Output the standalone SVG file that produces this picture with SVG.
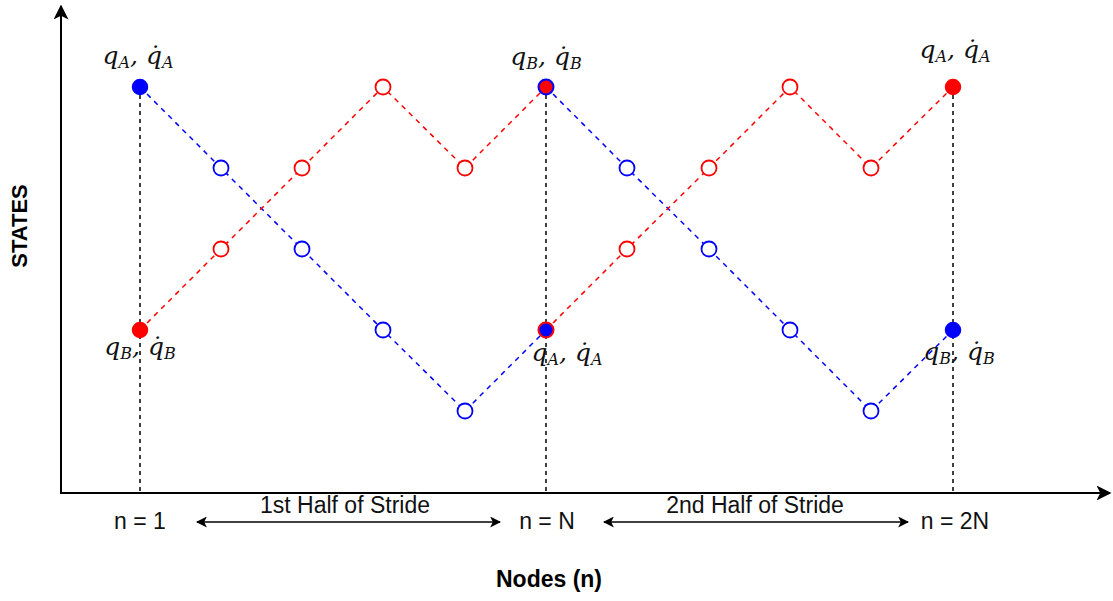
<svg xmlns="http://www.w3.org/2000/svg" width="1113" height="601" viewBox="0 0 1113 601">
<style>
.ax{stroke:#000;stroke-width:2;fill:none}
.vl{stroke:#000;stroke-width:1.5;stroke-dasharray:4 4;fill:none}
.bl{stroke:#0000ff;stroke-width:1.5;stroke-dasharray:5 5;fill:none}
.rl{stroke:#ff0000;stroke-width:1.5;stroke-dasharray:5 5;fill:none}
.ob{fill:#fff;stroke:#0000ff;stroke-width:1.8}
.or{fill:#fff;stroke:#ff0000;stroke-width:1.8}
.fb{fill:#0000ff;stroke:#0000ff;stroke-width:1.5}
.fr{fill:#ff0000;stroke:#ff0000;stroke-width:1.5}
.fbr{fill:#ff0000;stroke:#0000ff;stroke-width:2}
.frb{fill:#0000ff;stroke:#ff0000;stroke-width:2}
.m{font-family:"DejaVu Serif","Liberation Serif",serif;font-style:italic;fill:#111}
.t{font-family:"Liberation Sans",Arial,sans-serif;fill:#111}
.b{font-family:"Liberation Sans",Arial,sans-serif;font-weight:bold;fill:#000}
</style>
<defs>
<marker id="ah" viewBox="0 0 10 10" refX="9" refY="5" markerWidth="11" markerHeight="11" markerUnits="userSpaceOnUse" orient="auto-start-reverse"><path d="M0,0 L10,5 L0,10 L2.5,5 Z" fill="#000"/></marker>
<marker id="ax" viewBox="0 0 10 10" refX="9" refY="5" markerWidth="15" markerHeight="15" markerUnits="userSpaceOnUse" orient="auto"><path d="M0,0 L10,5 L0,10 L2.5,5 Z" fill="#000"/></marker>
</defs>
<g id="axes">
<line class="ax" x1="61" y1="493" x2="61" y2="6" marker-end="url(#ax)"/>
<line class="ax" x1="60" y1="493" x2="1110" y2="493" marker-end="url(#ax)"/>
</g>
<g id="connectors">
<line class="vl" x1="140" y1="87" x2="140" y2="493"/>
<line class="vl" x1="546" y1="87" x2="546" y2="493"/>
<line class="vl" x1="953" y1="87" x2="953" y2="493"/>
<polyline class="bl" points="140,87 221,168 302,249 383,330 465,411 546,330"/>
<polyline class="bl" points="546,87 627,168 709,249 790,330 871,411 953,330"/>
<polyline class="rl" points="140,330 221,249 302,168 383,87 465,168 546,87"/>
<polyline class="rl" points="546,330 627,249 709,168 790,87 871,168 953,87"/>
<line stroke="#000" stroke-width="1.5" x1="197" y1="522" x2="500" y2="522" marker-start="url(#ah)" marker-end="url(#ah)"/>
<line stroke="#000" stroke-width="1.5" x1="604" y1="522" x2="908" y2="522" marker-start="url(#ah)" marker-end="url(#ah)"/>
</g>
<g id="blue-nodes">
<circle class="ob" cx="221" cy="168" r="7.5"/>
<circle class="ob" cx="302" cy="249" r="7.5"/>
<circle class="ob" cx="383" cy="330" r="7.5"/>
<circle class="ob" cx="465" cy="411" r="7.5"/>
<circle class="ob" cx="627" cy="168" r="7.5"/>
<circle class="ob" cx="709" cy="249" r="7.5"/>
<circle class="ob" cx="790" cy="330" r="7.5"/>
<circle class="ob" cx="871" cy="411" r="7.5"/>
</g>
<g id="red-nodes">
<circle class="or" cx="221" cy="249" r="7.5"/>
<circle class="or" cx="302" cy="168" r="7.5"/>
<circle class="or" cx="383" cy="87" r="7.5"/>
<circle class="or" cx="465" cy="168" r="7.5"/>
<circle class="or" cx="627" cy="249" r="7.5"/>
<circle class="or" cx="709" cy="168" r="7.5"/>
<circle class="or" cx="790" cy="87" r="7.5"/>
<circle class="or" cx="871" cy="168" r="7.5"/>
</g>
<g id="n1-top"><circle class="fb" cx="140" cy="87" r="7.5"/>
<text class="m" font-size="25" x="138" y="64" text-anchor="middle">q<tspan font-size="16" dy="4">A</tspan><tspan dy="-4">, q̇</tspan><tspan font-size="16" dy="4">A</tspan></text></g>
<g id="n1-bot"><circle class="fr" cx="140" cy="330" r="7.5"/>
<text class="m" font-size="25" x="140" y="355" text-anchor="middle">q<tspan font-size="16" dy="4">B</tspan><tspan dy="-4">, q̇</tspan><tspan font-size="16" dy="4">B</tspan></text></g>
<g id="nN-top"><circle class="fbr" cx="546" cy="87" r="7.5"/>
<text class="m" font-size="25" x="546" y="65" text-anchor="middle">q<tspan font-size="16" dy="4">B</tspan><tspan dy="-4">, q̇</tspan><tspan font-size="16" dy="4">B</tspan></text></g>
<g id="nN-bot"><circle class="frb" cx="546" cy="330" r="7.5"/>
<text class="m" font-size="25" x="567" y="361" text-anchor="middle">q<tspan font-size="16" dy="4">A</tspan><tspan dy="-4">, q̇</tspan><tspan font-size="16" dy="4">A</tspan></text></g>
<g id="n2N-top"><circle class="fr" cx="953" cy="87" r="7.5"/>
<text class="m" font-size="25" x="955" y="58" text-anchor="middle">q<tspan font-size="16" dy="4">A</tspan><tspan dy="-4">, q̇</tspan><tspan font-size="16" dy="4">A</tspan></text></g>
<g id="n2N-bot"><circle class="fb" cx="953" cy="330" r="7.5"/>
<text class="m" font-size="25" x="959" y="360" text-anchor="middle">q<tspan font-size="16" dy="4">B</tspan><tspan dy="-4">, q̇</tspan><tspan font-size="16" dy="4">B</tspan></text></g>
<g id="labels">
<text class="t" font-size="23" x="140" y="529" text-anchor="middle">n = 1</text>
<text class="t" font-size="23" x="345" y="513" text-anchor="middle">1st Half of Stride</text>
<text class="t" font-size="23" x="547" y="529" text-anchor="middle">n = N</text>
<text class="t" font-size="23" x="755" y="513" text-anchor="middle">2nd Half of Stride</text>
<text class="t" font-size="23" x="955" y="529" text-anchor="middle">n = 2N</text>
<text class="b" font-size="23" x="549" y="587" text-anchor="middle">Nodes (n)</text>
<text class="b" font-size="22" x="0" y="0" text-anchor="middle" transform="translate(27,226) rotate(-90)">STATES</text>
</g>
</svg>
